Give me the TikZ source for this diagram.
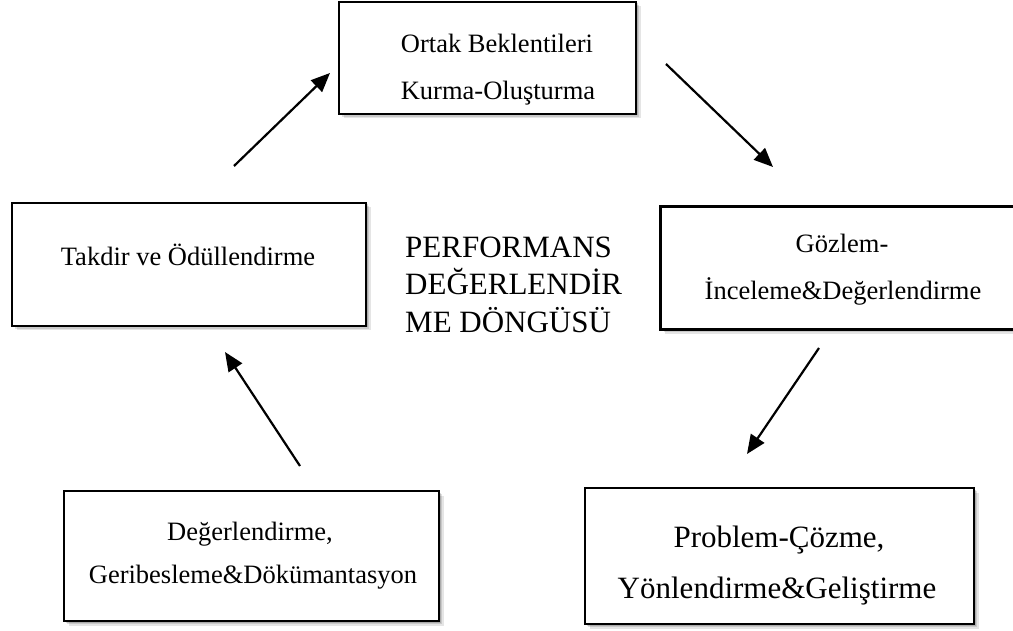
\documentclass[tikz,border=0pt]{standalone}
\usepackage{fontspec}
\setmainfont{Liberation Serif}
\usetikzlibrary{arrows.meta,shadows}
\tikzset{
  stagebox/.style={draw=black, line width=2.6pt, fill=white, rectangle, inner sep=0pt,
    drop shadow={shadow xshift=4.5pt, shadow yshift=-4.5pt, opacity=0.10, fill=black},
    drop shadow={shadow xshift=3pt, shadow yshift=-3pt, opacity=0.12, fill=black},
    drop shadow={shadow xshift=1.5pt, shadow yshift=-1.5pt, opacity=0.15, fill=black}},
  boxtext/.style={anchor=base, inner sep=0pt, font=\fontsize{26.5}{30}\selectfont},
  bigtext/.style={anchor=base, inner sep=0pt, font=\fontsize{31}{36}\selectfont},
  flow/.style={line width=2.2pt, -{Triangle[length=19pt,width=16pt]}}
}
\begin{document}
\begin{tikzpicture}[x=1pt,y=-1pt]
  \useasboundingbox (0,0) rectangle (1013,631);

  % the five stages of the cycle
  \node[stagebox, minimum width=297pt, minimum height=112pt] (expect) at (487.5,58) {};
  \node[stagebox, minimum width=354pt, minimum height=123pt] (observe) at (837.5,268) {};
  \node[stagebox, minimum width=389pt, minimum height=136pt] (solve) at (779.5,556) {};
  \node[stagebox, minimum width=375pt, minimum height=130pt] (feedback) at (251.5,556) {};
  \node[stagebox, minimum width=354pt, minimum height=123pt] (reward) at (189,264.5) {};

  % stage labels
  \node[boxtext] (expect1) at (497,53) {Ortak Beklentileri};
  \node[boxtext] (expect2) at (498,100) {Kurma-Oluşturma};
  \node[boxtext] (observe1) at (842,253) {Gözlem-};
  \node[boxtext] (observe2) at (843,300) {İnceleme\&Değerlendirme};
  \node[bigtext] (solve1) at (779,547) {Problem-Çözme,};
  \node[bigtext] (solve2) at (777,598) {Yönlendirme\&Geliştirme};
  \node[boxtext] (feedback1) at (250,540) {Değerlendirme,};
  \node[boxtext] (feedback2) at (253,583) {Geribesleme\&Dökümantasyon};
  \node[boxtext] (reward1) at (188,266) {Takdir ve Ödüllendirme};

  % title in the middle of the cycle
  \node[bigtext, anchor=base west] (title1) at (405,258) {PERFORMANS};
  \node[bigtext, anchor=base west] (title2) at (405,295) {DEĞERLENDİR};
  \node[bigtext, anchor=base west] (title3) at (405,333) {ME DÖNGÜSÜ};

  % arrow ends between the stages
  \coordinate (r2e) at (234,166);
  \coordinate (e2r) at (330,73);
  \coordinate (e2o) at (666,64);
  \coordinate (o2e) at (773,167);
  \coordinate (o2s) at (819,348);
  \coordinate (s2o) at (747,454);
  \coordinate (f2r) at (300,466);
  \coordinate (r2f) at (225,352);

  \draw[flow] (r2e) -- (e2r);
  \draw[flow] (e2o) -- (o2e);
  \draw[flow] (o2s) -- (s2o);
  \draw[flow] (f2r) -- (r2f);
\end{tikzpicture}
\end{document}
